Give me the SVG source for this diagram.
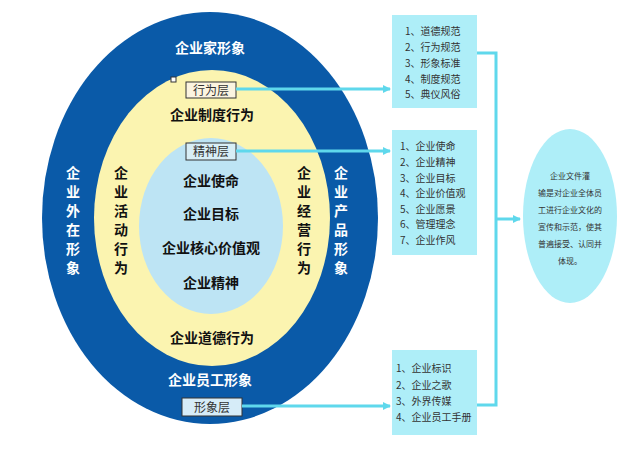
<svg xmlns="http://www.w3.org/2000/svg" width="640" height="451" viewBox="0 0 640 451">
<defs>
<marker id="ah" markerWidth="8" markerHeight="8" refX="7" refY="4" orient="auto" markerUnits="userSpaceOnUse"><path d="M0,0 L8,4 L0,8 Z" fill="#5fd8ec"/></marker>
<style>
text{font-family:"Noto Sans CJK SC","Liberation Sans",sans-serif}
.w{fill:#fff;font-weight:bold;font-size:14px}
.b{fill:#111;font-weight:bold;font-size:14px}
.v{font-weight:bold;font-size:14px;text-anchor:middle}
.lbl{fill:#333;font-size:12px}
.lb{fill:#fbf4e0;stroke:#333;stroke-width:1}
.box{fill:#aeeef8}
.it{fill:#333;font-size:10px}
.c{stroke:#5fd8ec;stroke-width:3;fill:none}
</style>
</defs>
<rect width="640" height="451" fill="#fff"/>
<g id="outer"><ellipse cx="210" cy="218" rx="168" ry="206" fill="#0a5aa8"/>
<text class="w" x="210" y="53" text-anchor="middle">企业家形象</text>
<text class="w" x="210" y="385" text-anchor="middle">企业员工形象</text>
<g class="v" fill="#fff"><text x="73" y="178">企</text><text x="73" y="197">业</text><text x="73" y="216">外</text><text x="73" y="235">在</text><text x="73" y="254">形</text><text x="73" y="273">象</text></g>
<g class="v" fill="#fff"><text x="341" y="178">企</text><text x="341" y="197">业</text><text x="341" y="216">产</text><text x="341" y="235">品</text><text x="341" y="254">形</text><text x="341" y="273">象</text></g>
</g>
<g id="middle"><ellipse cx="212" cy="218" rx="118" ry="148" fill="#fbf4b0"/>
<text class="b" x="212" y="120" text-anchor="middle">企业制度行为</text>
<text class="b" x="212" y="343" text-anchor="middle">企业道德行为</text>
<g class="v" fill="#111"><text x="121" y="178">企</text><text x="121" y="197">业</text><text x="121" y="216">活</text><text x="121" y="235">动</text><text x="121" y="254">行</text><text x="121" y="273">为</text></g>
<g class="v" fill="#111"><text x="304" y="178">企</text><text x="304" y="197">业</text><text x="304" y="216">经</text><text x="304" y="235">营</text><text x="304" y="254">行</text><text x="304" y="273">为</text></g>
</g>
<g id="inner"><ellipse cx="211" cy="226" rx="72" ry="88" fill="#bde4f4"/>
<text class="b" x="211" y="186" text-anchor="middle">企业使命</text>
<text class="b" x="211" y="219" text-anchor="middle">企业目标</text>
<text class="b" x="211" y="253" text-anchor="middle">企业核心价值观</text>
<text class="b" x="211" y="288" text-anchor="middle">企业精神</text>
</g>
<rect x="171" y="77" width="5" height="5" fill="#fff" stroke="#333" stroke-width="1"/>
<g id="l1"><rect class="lb" x="186" y="82" width="50" height="16"/><text class="lbl" x="211" y="95" text-anchor="middle">行为层</text></g>
<g id="l2"><rect x="186" y="143" width="50" height="17" fill="#d8eef6" stroke="#333"/><text class="lbl" x="211" y="156" text-anchor="middle">精神层</text></g>
<g id="l3"><rect x="182" y="398" width="60" height="18" fill="#d6ecf8" stroke="#333" stroke-width="1"/><text class="lbl" x="212" y="412" text-anchor="middle">形象层</text></g>
<g id="connectors">
<line class="c" x1="236" y1="89" x2="390" y2="89" marker-end="url(#ah)"/>
<line class="c" x1="236" y1="151" x2="390" y2="151" marker-end="url(#ah)"/>
<line class="c" x1="242" y1="406" x2="390" y2="406" marker-end="url(#ah)"/>
<polyline class="c" points="477,53 496,53 496,405 477,405" stroke-width="2"/>
<line class="c" x1="496" y1="219" x2="520" y2="219" marker-end="url(#ah)"/>
</g>
<g id="b1"><rect class="box" x="392" y="15" width="85" height="93"/>
<text class="it"><tspan x="405" y="35">1、道德规范</tspan><tspan x="405" y="51">2、行为规范</tspan><tspan x="405" y="67">3、形象标准</tspan><tspan x="405" y="83">4、制度规范</tspan><tspan x="405" y="98">5、典仪风俗</tspan></text></g>
<g id="b2"><rect class="box" x="392" y="130" width="85" height="125"/>
<text class="it"><tspan x="400" y="150">1、企业使命</tspan><tspan x="400" y="166">2、企业精神</tspan><tspan x="400" y="182">3、企业目标</tspan><tspan x="400" y="197">4、企业价值观</tspan><tspan x="400" y="213">5、企业愿景</tspan><tspan x="400" y="228">6、管理理念</tspan><tspan x="400" y="244">7、企业作风</tspan></text></g>
<g id="b3"><rect class="box" x="392" y="350" width="85" height="85"/>
<text class="it"><tspan x="396" y="372">1、企业标识</tspan><tspan x="396" y="389">2、企业之歌</tspan><tspan x="396" y="405">3、外界传媒</tspan><tspan x="396" y="421">4、企业员工手册</tspan></text></g>
<g id="e"><ellipse cx="570" cy="216" rx="47" ry="87" fill="#aeeef8"/>
<text font-size="8" fill="#333" text-anchor="middle"><tspan x="570" y="179">企业文件灌</tspan><tspan x="570" y="196">输是对企业全体员</tspan><tspan x="570" y="213">工进行企业文化的</tspan><tspan x="570" y="230">宣传和示范，使其</tspan><tspan x="570" y="247">普遍接受、认同并</tspan><tspan x="570" y="264">体现。</tspan></text></g>
</svg>
